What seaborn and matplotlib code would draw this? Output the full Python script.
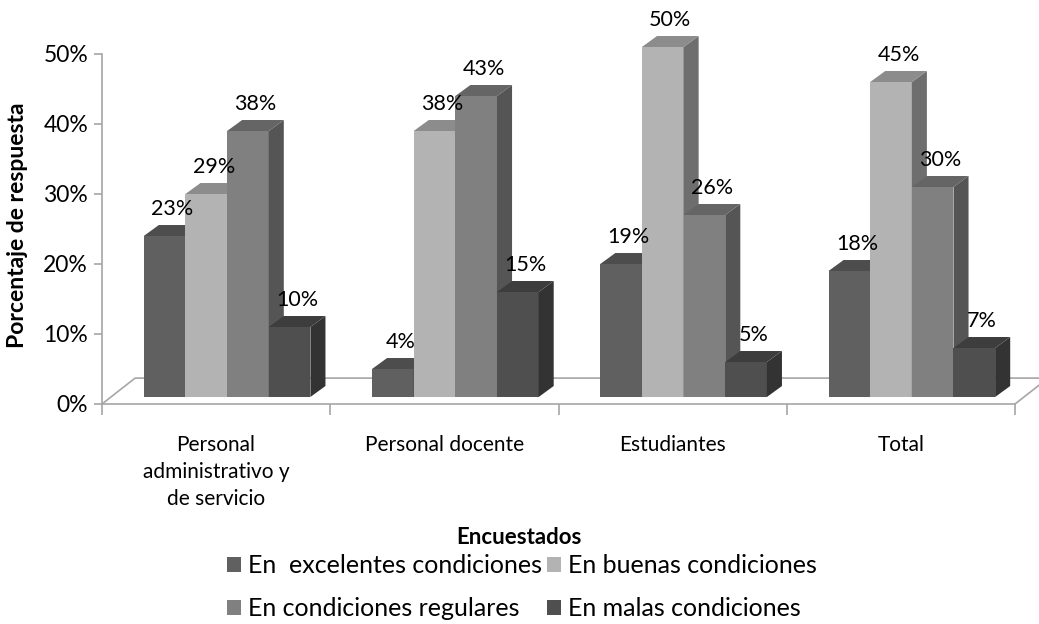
import numpy as np
import pandas as pd
import seaborn as sns
import matplotlib.pyplot as plt
from matplotlib.patches import Polygon, Patch

# --------- Data ---------
categories = ["Personal\nadministrativo y\nde servicio", "Personal docente", "Estudiantes", "Total"]
series = ["En  excelentes condiciones", "En buenas condiciones",
          "En condiciones regulares", "En malas condiciones"]
excelentes = [23, 4, 19, 18]
buenas = [29, 38, 50, 45]
regulares = [38, 43, 26, 30]
malas = [10, 15, 5, 7]

front_colors = ["#606060", "#b3b3b3", "#808080", "#4f4f4f"]
top_colors = ["#4d4d4d", "#8c8c8c", "#656565", "#3d3d3d"]
side_colors = ["#444444", "#6e6e6e", "#555555", "#333333"]

rows = []
for s, vals in zip(series, [excelentes, buenas, regulares, malas]):
    for c, v in zip(categories, vals):
        rows.append({"cat": c, "serie": s, "val": v / 100})
df = pd.DataFrame(rows)

# --------- Style ---------
sns.set_style("white")
plt.rcParams["font.family"] = ["Lato", "DejaVu Sans"]
plt.rcParams["text.color"] = "black"
plt.rcParams["xtick.color"] = "black"
plt.rcParams["ytick.color"] = "black"

fig = plt.figure(figsize=(10.39, 6.24), dpi=100)
ax = fig.add_axes([102 / 1039, 1 - 404 / 624, (1015 - 102) / 1039, 350 / 624])

sns.barplot(data=df, x="cat", y="val", hue="serie", order=categories,
            hue_order=series, palette=front_colors, saturation=1,
            width=0.73, legend=False, ax=ax, edgecolor="none")

# pseudo-3D geometry (data units)
dx, dy = 0.066, 0.0157
base = 0.01
shift = 0.048

for i, p in enumerate(ax.patches):
    k = i // len(categories)  # hue index
    p.set_y(base)
    p.set_x(p.get_x() + shift)
    p.set_clip_on(False)
    x0, w, h = p.get_x(), p.get_width(), p.get_height()
    y0, y1 = base, base + h
    p.set_zorder(2 + k)
    side = Polygon([(x0 + w, y0), (x0 + w + dx, y0 + dy), (x0 + w + dx, y1 + dy), (x0 + w, y1)],
                   closed=True, facecolor=side_colors[k], edgecolor="none", zorder=2 + k, clip_on=False)
    top = Polygon([(x0, y1), (x0 + dx, y1 + dy), (x0 + w + dx, y1 + dy), (x0 + w, y1)],
                  closed=True, facecolor=top_colors[k], edgecolor="none", zorder=2 + k, clip_on=False)
    ax.add_patch(side)
    ax.add_patch(top)
    ax.text(x0 + w / 2 + dx / 2, y1 + dy + 0.009, f"{round(h * 100)}%",
            ha="center", va="bottom", fontsize=15.5, zorder=10)

# floor
fdx, fdy = 0.145, 0.037
floor = [(-0.5, 0), (-0.5 + fdx, fdy), (3.5 + fdx, fdy), (3.5, 0)]
ax.add_patch(Polygon(floor, closed=False, fill=False, edgecolor="#a6a6a6",
                     linewidth=1.2, clip_on=False, zorder=1))

ax.set_xlim(-0.5, 3.5)
ax.set_ylim(0, 0.5)
ax.set_yticks(np.arange(0, 0.51, 0.1))
ax.set_yticklabels([f"{int(t)}%" for t in np.arange(0, 51, 10)], fontsize=16.5)
ax.set_xticks(range(len(categories)))
ax.set_xticklabels(categories, fontsize=15, linespacing=1.45)
ax.set_xticks(np.arange(-0.5, 4, 1), minor=True)
ax.tick_params(axis="x", which="major", length=0, pad=22)
ax.tick_params(axis="x", which="minor", bottom=True, length=8, color="#a6a6a6", width=1.2)
ax.tick_params(axis="y", left=True, length=6, color="#a6a6a6", width=1.2, pad=4)

for s in ["top", "right"]:
    ax.spines[s].set_visible(False)
for s in ["left", "bottom"]:
    ax.spines[s].set_color("#a6a6a6")
    ax.spines[s].set_linewidth(1.2)

ax.set_xlabel("")
ax.set_ylabel("")
fig.text(18 / 1039, 1 - 225 / 624, "Porcentaje de respuesta", rotation=90,
         ha="center", va="center", fontsize=16.5, fontweight="bold")
fig.text(519 / 1039, 1 - 537 / 624, "Encuestados", ha="center", va="center",
         fontsize=16, fontweight="bold")

# legend filled row by row
order = [0, 2, 1, 3]
handles = [Patch(facecolor=front_colors[j], edgecolor="none") for j in order]
labels = [series[j] for j in order]
fig.legend(handles, labels, loc="center", bbox_to_anchor=(522 / 1039, 1 - 587 / 624),
           ncol=2, frameon=False, fontsize=18, handlelength=0.55, handleheight=0.55,
           handletextpad=0.3, columnspacing=0.2, labelspacing=0.8)

fig.savefig("out.png", dpi=100)
